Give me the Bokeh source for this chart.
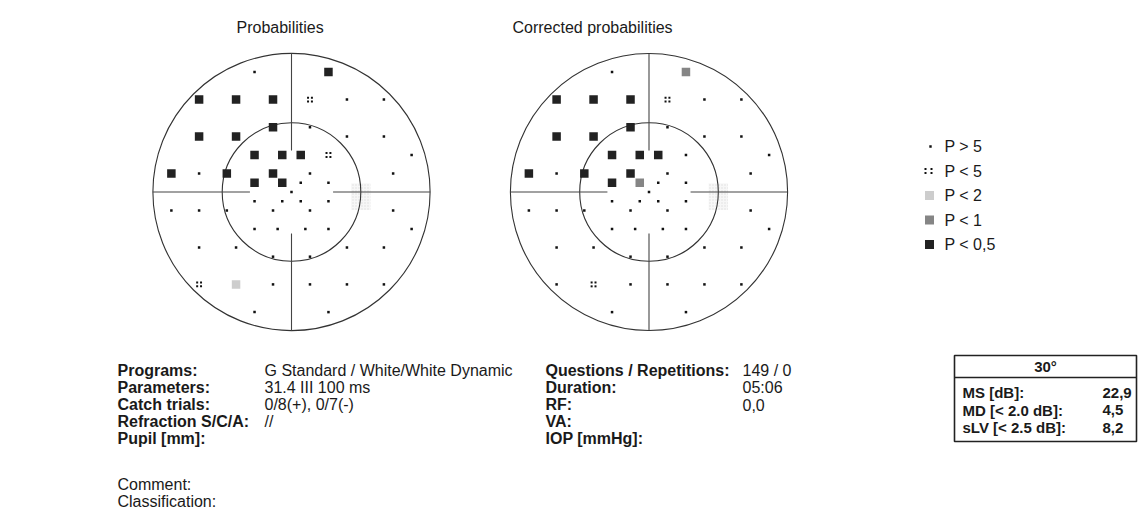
from bokeh.plotting import figure
from bokeh.models import Range1d, ColumnDataSource
from bokeh.transform import dodge
from bokeh.core.properties import value
from bokeh.embed import file_html
from bokeh.resources import INLINE

# ---------------- data (degrees of visual field) ----------------
PT_X = [-8, 8,
        -20, -12, -4, 4, 12, 20,
        -4, 4,
        -20, -12, 12, 20,
        -8, -2, 2, 8, 26,
        -26, -20, -14, -4, 4, 22,
        -8, -2, 2, 8,
        0,
        -8, -2, 2, 8,
        -26, -20, -14, -4, 4, 22,
        -8, -3, 3, 8, 26,
        -20, -12, 12, 20,
        -4, 4,
        -20, -12, -4, 4, 12, 20,
        -8, 8]
PT_Y = [26, 26,
        20, 20, 20, 20, 20, 20,
        14, 14,
        12, 12, 12, 12,
        8, 8, 8, 8, 8,
        4, 4, 4, 4, 4, 4,
        2, 2, 2, 2,
        0,
        -2, -2, -2, -2,
        -4, -4, -4, -4, -4, -4,
        -8, -8, -8, -8, -8,
        -12, -12, -12, -12,
        -14, -14,
        -20, -20, -20, -20, -20, -20,
        -26, -26]
PROB_LEFT = [">5", "<0.5",
             "<0.5", "<0.5", "<0.5", "<5", ">5", ">5",
             "<0.5", ">5",
             "<0.5", "<0.5", ">5", ">5",
             "<0.5", "<0.5", "<0.5", "<5", ">5",
             "<0.5", ">5", "<0.5", "<0.5", ">5", ">5",
             "<0.5", "<0.5", ">5", ">5",
             ">5",
             ">5", ">5", ">5", ">5",
             ">5", ">5", ">5", ">5", ">5", ">5",
             ">5", ">5", ">5", ">5", ">5",
             ">5", ">5", ">5", ">5",
             ">5", ">5",
             "<5", "<2", ">5", ">5", ">5", ">5",
             ">5", ">5"]
PROB_RIGHT = [">5", "<1",
              "<0.5", "<0.5", "<0.5", "<5", ">5", ">5",
              "<0.5", ">5",
              "<0.5", "<0.5", ">5", ">5",
              "<0.5", "<0.5", "<0.5", ">5", ">5",
              "<0.5", ">5", "<0.5", "<0.5", ">5", ">5",
              "<0.5", "<1", ">5", ">5",
              ">5",
              ">5", ">5", ">5", ">5",
              ">5", ">5", ">5", ">5", ">5", ">5",
              ">5", ">5", ">5", ">5", ">5",
              ">5", ">5", ">5", ">5",
              ">5", ">5",
              ">5", "<5", ">5", ">5", ">5", ">5",
              ">5", ">5"]
TITLES = ["Probabilities", "Corrected probabilities"]
LEGEND_CATS = [">5", "<5", "<2", "<1", "<0.5"]
LEGEND_LABELS = ["P > 5", "P < 5", "P < 2", "P < 1", "P < 0,5"]

INFO_LABELS = ["Programs:", "Parameters:", "Catch trials:", "Refraction S/C/A:", "Pupil [mm]:"]
INFO_VALUES = ["G Standard / White/White Dynamic", "31.4 III 100 ms", "0/8(+), 0/7(-)", "//", ""]
INFO2_LABELS = ["Questions / Repetitions:", "Duration:", "RF:", "VA:", "IOP [mmHg]:"]
INFO2_VALUES = ["149 / 0", "05:06", "0,0", "", ""]
NOTE_LABELS = ["Comment:", "Classification:"]
TABLE_HEADER = "30°"
TABLE_LABELS = ["MS [dB]:", "MD [< 2.0 dB]:", "sLV [< 2.5 dB]:"]
TABLE_VALUES = ["22,9", "4,5", "8,2"]

R_OUTER, R_INNER, AXIS_GAP = 30, 15, 9
BLIND_SPOT = (15, -1)

# ---------------- layout ----------------
W, H = 1138, 523
K = 4.62                 # pixels per degree
CX_L, CX_R, CY = 291.0, 648.5, 191.5
FONT = value("Liberation Sans")

p = figure(width=W, height=H, output_backend="svg", toolbar_location=None,
           x_range=Range1d(0, W), y_range=Range1d(H, 0), min_border=0,
           outline_line_color=None, background_fill_color="white",
           border_fill_color="white")
p.axis.visible = False
p.grid.visible = False
p.extra_x_ranges = {"L": Range1d(-CX_L / K, (W - CX_L) / K),
                    "R": Range1d(-CX_R / K, (W - CX_R) / K)}
p.extra_y_ranges = {"deg": Range1d(-(H - CY) / K, CY / K)}

MARK = {"<2": "#cdcdcd", "<1": "#858585", "<0.5": "#222222"}


def draw_field(xname, probs):
    kw = dict(x_range_name=xname, y_range_name="deg")
    # blind spot shading (faint stipple)
    p.rect(x=[BLIND_SPOT[0]], y=[BLIND_SPOT[1]], width=4.2, height=5.8,
           fill_color="#f5f5f5", fill_alpha=0.8, line_color=None,
           hatch_pattern="dot", hatch_color="#dddddd", hatch_scale=3, **kw)
    p.circle(x=[0, 0], y=[0, 0], radius=[R_OUTER, R_INNER], fill_color=None,
             line_color="#333333", line_width=1.1, **kw)
    p.segment(x0=[-R_OUTER, AXIS_GAP, 0, 0], y0=[0, 0, AXIS_GAP, -R_OUTER],
              x1=[-AXIS_GAP, R_OUTER, 0, 0], y1=[0, 0, R_OUTER, -AXIS_GAP],
              line_color="#444444", line_width=1.1, **kw)
    groups = {}
    for x, y, c in zip(PT_X, PT_Y, probs):
        groups.setdefault(c, {"x": [], "y": []})
        groups[c]["x"].append(x)
        groups[c]["y"].append(y)
    for c, d in groups.items():
        src = ColumnDataSource(d)
        if c == ">5":
            p.scatter("x", "y", source=src, marker="square", size=2.5,
                      fill_color="#111111", line_color=None, **kw)
        elif c == "<5":
            for dx in (-0.42, 0.42):
                for dy in (-0.42, 0.42):
                    p.scatter(x=dodge("x", dx), y=dodge("y", dy), source=src,
                              marker="square", size=2.0, fill_color="#111111",
                              line_color=None, **kw)
        else:
            p.scatter("x", "y", source=src, marker="square", size=8.5,
                      fill_color=MARK[c], line_color=None, **kw)


draw_field("L", PROB_LEFT)
draw_field("R", PROB_RIGHT)

# titles
p.text(x=[236, 512], y=[27, 27], text=TITLES, text_font=FONT,
       text_font_size="16px", text_baseline="middle", text_color="#1a1a1a")

# legend
LX, LY0, LDY = 929, 146, 24.5
for i, (c, lab) in enumerate(zip(LEGEND_CATS, LEGEND_LABELS)):
    y = LY0 + i * LDY
    if c == ">5":
        p.scatter(x=[LX + 1], y=[y], marker="square", size=2.4,
                  fill_color="#111111", line_color=None)
    elif c == "<5":
        p.scatter(x=[LX - 4, LX - 4, LX + 2, LX + 2], y=[y - 2, y + 2, y - 2, y + 2],
                  marker="square", size=2.0, fill_color="#111111", line_color=None)
    else:
        p.scatter(x=[LX], y=[y], marker="square", size=9,
                  fill_color=MARK[c], line_color=None)
p.text(x=[944] * 5, y=[LY0 + i * LDY for i in range(5)], text=LEGEND_LABELS,
       text_font=FONT, text_font_size="16px", text_baseline="middle",
       text_color="#1a1a1a")

# info blocks
ROW0, DROW = 370, 17
rows = [ROW0 + i * DROW for i in range(5)]
common = dict(text_font=FONT, text_font_size="16px", text_baseline="middle",
              text_color="#1a1a1a")
p.text(x=[117] * 5, y=rows, text=INFO_LABELS, text_font_style="bold", **common)
p.text(x=[264] * 5, y=rows, text=INFO_VALUES, **common)
p.text(x=[545] * 5, y=rows, text=INFO2_LABELS, text_font_style="bold", **common)
p.text(x=[742] * 5, y=rows, text=INFO2_VALUES, **common)
p.text(x=[117, 117], y=[484, 501], text=NOTE_LABELS, **common)

# table
p.quad(left=[954], right=[1136], top=[355], bottom=[441], fill_color=None,
       line_color="#222222", line_width=1.6)
p.segment(x0=[954], y0=[377], x1=[1136], y1=[377], line_color="#222222", line_width=1.6)
tcommon = dict(text_font=FONT, text_font_size="15px", text_baseline="middle",
               text_color="#1a1a1a", text_font_style="bold")
p.text(x=[1045], y=[366], text=[TABLE_HEADER], text_align="center", **tcommon)
trows = [392, 409.5, 427]
p.text(x=[962] * 3, y=trows, text=TABLE_LABELS, **tcommon)
p.text(x=[1102] * 3, y=trows, text=TABLE_VALUES, **tcommon)

open("out.html", "w").write(file_html(p, INLINE))
